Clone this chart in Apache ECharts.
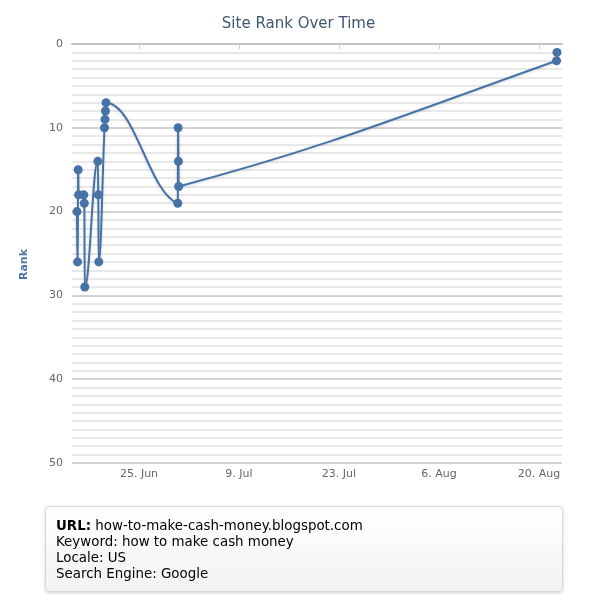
<!DOCTYPE html>
<html>
<head>
<meta charset="utf-8">
<title>Site Rank Over Time</title>
<script src="https://cdn.jsdelivr.net/npm/echarts@6/dist/echarts.min.js"></script>
<style>
    body { margin: 0; background: #fff; }
    #chart { position: absolute; left: 0; top: 0; width: 597px; height: 600px; }
    #info {
        position: absolute;
        left: 45px;
        top: 506px;
        width: 518px;
        height: 86px;
        box-sizing: border-box;
        padding: 11px 10px;
        font: 13.4px/16px 'DejaVu Sans', Verdana, sans-serif;
        color: #000;
        border: 1px solid #d8d8d8;
        border-radius: 4px;
        background: linear-gradient(#ffffff, #f2f2f2);
        box-shadow: 0 1px 3px rgba(0, 0, 0, 0.2);
    }
</style>
</head>
<body>
<div id="chart"></div>
<div id="info">
    <b>URL:</b> how-to-make-cash-money.blogspot.com<br>
    Keyword: how to make cash money<br>
    Locale: US<br>
    Search Engine: Google
</div>
<script>
// 数据：检查时间 和 排名
var year = 2012;
var checkTimes = [
    '06-16 07:40', '06-16 09:40', '06-16 11:40', '06-16 13:00',
    '06-17 06:30', '06-17 08:12', '06-17 09:54',
    '06-19 05:36', '06-19 07:12', '06-19 08:54',
    '06-20 04:06', '06-20 05:48', '06-20 07:24', '06-20 09:06',
    '06-30 10:24', '06-30 11:24', '06-30 12:24', '06-30 13:24',
    '08-22 11:00', '08-22 12:30'
];
var ranks = [
    20, 26, 15, 18,
    18, 19, 29,
    14, 18, 26,
    10, 9, 8, 7,
    19, 10, 14, 17,
    2, 1
];
// x 轴刻度
var tickDates = ['06-25', '07-09', '07-23', '08-06', '08-20'];
var axisStart = '06-15 14:54';
var axisEnd = '08-23 05:18';
var monthNames = ['Jan', 'Feb', 'Mar', 'Apr', 'May', 'Jun', 'Jul', 'Aug', 'Sep', 'Oct', 'Nov', 'Dec'];

function toTime(s) {
    if (s.length == 5) s = s + ' 00:00';
    return new Date(year + '-' + s.replace(' ', 'T') + ':00Z').getTime();
}

var seriesData = [];
for (let i = 0; i < checkTimes.length; i++) {
    seriesData.push([toTime(checkTimes[i]), ranks[i]]);
}
var tickValues = tickDates.map(toTime);

// 样条控制点（与 Highcharts spline 相同的算法）
function splineControl(pts, i) {
    var p = pts[i], last = pts[i - 1], next = pts[i + 1];
    if (!last || !next) return null;
    var smoothing = 1.5, denom = smoothing + 1, eps = 0.1;
    var leftContX = (smoothing * p[0] + last[0]) / denom;
    var leftContY = (smoothing * p[1] + last[1]) / denom;
    var rightContX = (smoothing * p[0] + next[0]) / denom;
    var rightContY = (smoothing * p[1] + next[1]) / denom;
    var correction = 0;
    if (rightContX != leftContX) {
        correction = ((rightContY - leftContY) * (rightContX - p[0])) / (rightContX - leftContX) + p[1] - rightContY;
    }
    leftContY += correction;
    rightContY += correction;
    // 防止出现假的极值
    if (leftContY > last[1] + eps && leftContY > p[1] + eps) {
        leftContY = Math.max(last[1], p[1]);
        rightContY = 2 * p[1] - leftContY;
    } else if (leftContY < last[1] - eps && leftContY < p[1] - eps) {
        leftContY = Math.min(last[1], p[1]);
        rightContY = 2 * p[1] - leftContY;
    }
    if (rightContY > next[1] + eps && rightContY > p[1] + eps) {
        rightContY = Math.max(next[1], p[1]);
        leftContY = 2 * p[1] - rightContY;
    } else if (rightContY < next[1] - eps && rightContY < p[1] - eps) {
        rightContY = Math.min(next[1], p[1]);
        leftContY = 2 * p[1] - rightContY;
    }
    return [leftContX, leftContY, rightContX, rightContY];
}

function renderSegment(params, api) {
    var i = params.dataIndex;
    if (i == 0) return null;
    var pts = seriesData.map(function (d) {
        return api.coord(d);
    });
    var a = splineControl(pts, i - 1);
    var b = splineControl(pts, i);
    var p0 = pts[i - 1], p1 = pts[i];
    return {
        type: 'bezierCurve',
        shape: {
            x1: p0[0],
            y1: p0[1],
            x2: p1[0],
            y2: p1[1],
            cpx1: a ? a[2] : p0[0],
            cpy1: a ? a[3] : p0[1],
            cpx2: b ? b[0] : p1[0],
            cpy2: b ? b[1] : p1[1],
        },
        style: {
            stroke: '#4572A7',
            lineWidth: 2,
            fill: 'none',
            shadowColor: 'rgba(0, 0, 0, 0.15)',
            shadowBlur: 3,
            shadowOffsetY: 1,
        },
    };
}

var font = "'DejaVu Sans', Verdana, sans-serif";
var rankChart = echarts.init(document.getElementById('chart'));
rankChart.setOption({
    animation: false,
    title: {
        text: 'Site Rank Over Time',
        left: 'center',
        top: 12,
        textStyle: {
            color: '#3E576F',
            fontSize: 15,
            fontWeight: 'normal',
            fontFamily: font,
        },
    },
    grid: {
        left: 72,
        right: 35,
        top: 44,
        bottom: 137,
    },
    xAxis: {
        type: 'value',
        min: toTime(axisStart),
        max: toTime(axisEnd),
        axisLine: { lineStyle: { color: '#c4c4c4', width: 2 } },
        axisTick: {
            customValues: tickValues,
            length: 5,
            lineStyle: { color: '#c0d0e0' },
        },
        axisLabel: {
            customValues: tickValues,
            color: '#666',
            fontSize: 11,
            fontFamily: font,
            margin: 6,
            formatter: function (v) {
                var d = new Date(v);
                return d.getUTCDate() + '. ' + monthNames[d.getUTCMonth()];
            },
        },
        splitLine: { show: false },
    },
    yAxis: {
        type: 'value',
        inverse: true,
        min: 0,
        max: 50,
        interval: 10,
        name: 'Rank',
        nameLocation: 'middle',
        nameGap: 42,
        nameTextStyle: {
            color: '#4d759e',
            fontWeight: 'bold',
            fontSize: 11,
            fontFamily: font,
            padding: [0, 22, 0, 0],
        },
        axisLine: { show: false },
        axisTick: { show: false },
        axisLabel: {
            color: '#666',
            fontSize: 11,
            fontFamily: font,
            margin: 9,
            padding: [0, 0, 5, 0],
        },
        splitLine: { lineStyle: { color: '#d2d2d2', width: 2 } },
        minorTick: { show: false, splitNumber: 10 },
        minorSplitLine: { show: true, lineStyle: { color: '#e8e8e8', width: 2 } },
    },
    series: [
        {
            type: 'custom',
            data: seriesData,
            encode: { x: 0, y: 1 },
            renderItem: renderSegment,
            clip: true,
            z: 2,
        },
        {
            type: 'scatter',
            data: seriesData,
            symbol: 'circle',
            symbolSize: 9,
            itemStyle: { color: '#4572A7', opacity: 1 },
            z: 3,
        },
    ],
});
</script>
</body>
</html>
